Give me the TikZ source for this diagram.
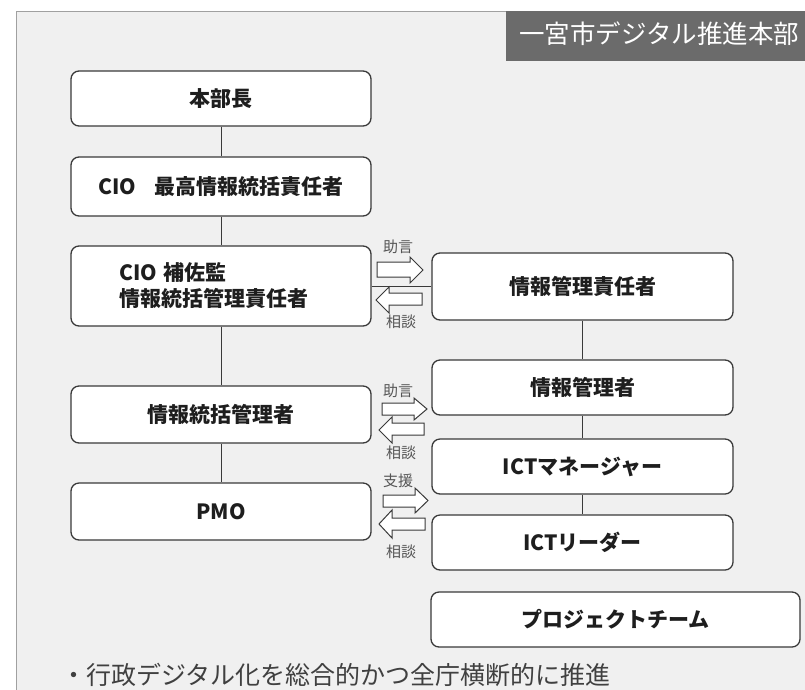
\documentclass[tikz,border=0pt]{standalone}
\usepackage{fontspec}
\setmainfont{Noto Sans CJK JP}
\definecolor{panelbg}{HTML}{F0F0F0}
\definecolor{panelln}{HTML}{A0A0A0}
\definecolor{titlebg}{HTML}{6B6B6B}
\definecolor{boxln}{HTML}{3A3A3A}
\definecolor{txt}{HTML}{1E1E1E}
\definecolor{lbl}{HTML}{555555}
\tikzset{
  orgbox/.style={draw=boxln, line width=1.3pt, fill=white, rounded corners=8pt,
    text=txt, font=\fontsize{21}{25}\selectfont\bfseries, inner sep=0pt},
  link/.style={draw=boxln, line width=1pt},
  blockarrow/.style={draw=boxln, line width=1pt, fill=white},
  smalllbl/.style={text=lbl, font=\fontsize{15}{17}\selectfont, inner sep=0pt},
}
\begin{document}
\begin{tikzpicture}[x=1pt,y=-1pt]
\useasboundingbox (0,0) rectangle (805,689);
\fill[white] (0,0) rectangle (805,689);
\fill[panelbg] (16,11) rectangle (806,690);
\draw[panelln, line width=1pt] (16,690) -- (16,11) -- (806,11);
% title
\fill[titlebg] (506,11) rectangle (806,61);
\node[anchor=west, text=white, font=\fontsize{25.5}{30}\selectfont, inner sep=0pt] (title) at (519,34) {一宮市デジタル推進本部};
% left column
\node[orgbox, minimum width=300pt, minimum height=55pt] (hq) at (221,98.5) {本部長};
\node[orgbox, minimum width=300pt, minimum height=59pt] (cio) at (221,186.5) {CIO\hspace{0.9em}最高情報統括責任者};
\node[orgbox, minimum width=300pt, minimum height=80pt, text width=204pt, align=left] (cioa) at (221,286) {CIO 補佐監\\[1pt]情報統括管理責任者};
\node[orgbox, minimum width=300pt, minimum height=57pt] (ism) at (221,414.5) {情報統括管理者};
\node[orgbox, minimum width=300pt, minimum height=57pt] (pmo) at (221,511.5) {PMO};
% right column
\node[orgbox, minimum width=301pt, minimum height=67pt] (imr) at (582.5,286.5) {情報管理責任者};
\node[orgbox, minimum width=301pt, minimum height=55pt] (im) at (582.5,387.5) {情報管理者};
\node[orgbox, minimum width=301pt, minimum height=55pt] (ictm) at (582.5,466.5) {ICTマネージャー};
\node[orgbox, minimum width=301pt, minimum height=55pt] (ictl) at (582.5,542.5) {ICTリーダー};
\node[orgbox, minimum width=369pt, minimum height=55pt] (pt) at (615.5,619.5) {プロジェクトチーム};
% connectors
\draw[link] (hq) -- (cio);
\draw[link] (cio) -- (cioa);
\draw[link] (cioa) -- (ism);
\draw[link] (ism) -- (pmo);
\draw[link] (imr) -- (im);
\draw[link] (im) -- (ictm);
\draw[link] (ictm) -- (ictl);
\draw[link] (cioa.east |- imr.west) -- (imr.west);
% block arrows
\draw[blockarrow] (377,262) -- (410,262) -- (410,257) -- (423,270) -- (410,283) -- (410,277) -- (377,277) -- cycle;
\draw[blockarrow] (422,293) -- (389,293) -- (389,287) -- (376,300) -- (389,313) -- (389,305) -- (422,305) -- cycle;
\draw[blockarrow] (382,403) -- (414,403) -- (414,398) -- (427,409) -- (414,420) -- (414,415) -- (382,415) -- cycle;
\draw[blockarrow] (424,423) -- (392,423) -- (392,417) -- (379,430) -- (392,443) -- (392,435) -- (424,435) -- cycle;
\draw[blockarrow] (383,495) -- (415,495) -- (415,488) -- (428,500.5) -- (415,513) -- (415,507) -- (383,507) -- cycle;
\draw[blockarrow] (425,518) -- (392,518) -- (392,510) -- (379,524) -- (392,538) -- (392,530) -- (425,530) -- cycle;
% labels
\node[smalllbl] (l1) at (398,247) {助言};
\node[smalllbl] (l2) at (401,322) {相談};
\node[smalllbl] (l3) at (398,391) {助言};
\node[smalllbl] (l4) at (401,453) {相談};
\node[smalllbl] (l5) at (398,481) {支援};
\node[smalllbl] (l6) at (401,552) {相談};
% bottom text
\node[anchor=base west, text=txt!85, font=\fontsize{25}{30}\selectfont, inner sep=0pt] (note) at (61,684) {・行政デジタル化を総合的かつ全庁横断的に推進};
\end{tikzpicture}
\end{document}
